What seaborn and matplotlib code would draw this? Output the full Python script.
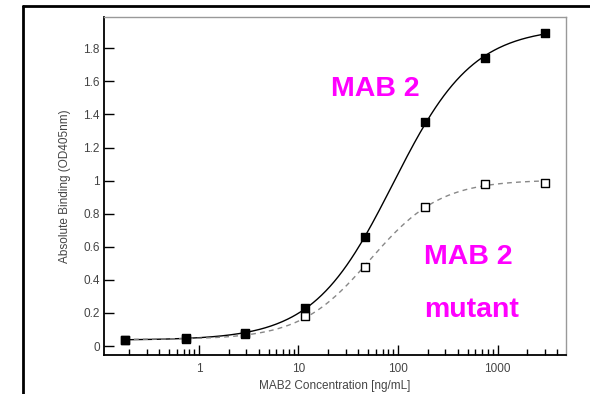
import numpy as np
import pandas as pd
import matplotlib
matplotlib.use("Agg")
import matplotlib.pyplot as plt
from matplotlib.lines import Line2D
from matplotlib.ticker import LogLocator, FixedLocator, NullFormatter, FuncFormatter
import seaborn as sns

# ---- data ----
concentration = [0.18, 0.732, 2.93, 11.7, 46.9, 187.5, 750, 3000]
mab2 = [0.034, 0.05, 0.08, 0.23, 0.66, 1.356, 1.743, 1.89]
mab2_mutant = [0.034, 0.045, 0.07, 0.18, 0.48, 0.842, 0.981, 0.987]
y_ticks = [0, 0.2, 0.4, 0.6, 0.8, 1.0, 1.2, 1.4, 1.6, 1.8]
x_ticks = [1, 10, 100, 1000]
x_label = "MAB2 Concentration [ng/mL]"
y_label = "Absolute Binding (OD405nm)"


def fit_4pl(x, y):
    """Least-squares 4-parameter logistic fit (grid over EC50/Hill, linear for bottom/top)."""
    lx = np.log10(np.asarray(x, float))
    y = np.asarray(y, float)
    best = None
    for lec in np.linspace(0, 4, 401):
        for h in np.linspace(0.3, 3, 271):
            s = 1.0 / (1.0 + 10 ** ((lec - lx) * h))
            A = np.column_stack([1 - s, s])
            coef, *_ = np.linalg.lstsq(A, y, rcond=None)
            r = np.sum((A @ coef - y) ** 2)
            if best is None or r < best[0]:
                best = (r, lec, h, coef)
    _, lec, h, (bot, top) = best

    def f(xx):
        s = 1.0 / (1.0 + 10 ** ((lec - np.log10(xx)) * h))
        return bot + (top - bot) * s
    return f


xs = np.logspace(np.log10(min(concentration)), np.log10(max(concentration)), 300)
f1 = fit_4pl(concentration, mab2)
f2 = fit_4pl(concentration, mab2_mutant)
curve1 = pd.DataFrame({"x": xs, "y": f1(xs)})
curve2 = pd.DataFrame({"x": xs, "y": f2(xs)})
pts1 = pd.DataFrame({"x": concentration, "y": mab2})
pts2 = pd.DataFrame({"x": concentration, "y": mab2_mutant})

sns.set_style("ticks")
plt.rcParams["font.family"] = ["Liberation Sans", "DejaVu Sans"]

fig = plt.figure(figsize=(5.9, 3.94), dpi=100)
ax = fig.add_axes([104 / 590, 1 - 355 / 394, 462 / 590, 338 / 394])

sns.lineplot(data=curve1, x="x", y="y", ax=ax, color="black", lw=1.0, legend=False)
sns.lineplot(data=curve2, x="x", y="y", ax=ax, color="#888888", lw=1.0, legend=False)
ax.lines[-1].set_linestyle((0, (3.5, 3)))
sns.scatterplot(data=pts2, x="x", y="y", ax=ax, marker="s", s=38,
                facecolor="white", edgecolor="black", linewidth=1.0, zorder=5)
sns.scatterplot(data=pts1, x="x", y="y", ax=ax, marker="s", s=38,
                color="black", edgecolor="black", linewidth=1.0, zorder=6)

ax.set_xscale("log")
ax.set_xlim(0.111, 4880)
ax.set_ylim(-0.054, 1.989)
ax.xaxis.set_major_locator(FixedLocator(x_ticks))
ax.xaxis.set_major_formatter(FuncFormatter(lambda v, p: f"{v:g}"))
ax.xaxis.set_minor_locator(LogLocator(base=10, subs=np.arange(2, 10)))
ax.xaxis.set_minor_formatter(NullFormatter())
ax.yaxis.set_major_locator(FixedLocator(y_ticks))
ax.yaxis.set_major_formatter(FuncFormatter(lambda v, p: f"{v:g}"))

ax.tick_params(axis="both", which="major", direction="in", length=7, width=1,
               labelsize=8.5, labelcolor="#444444", color="black")
ax.tick_params(axis="x", which="major", pad=6)
ax.tick_params(axis="y", which="major", pad=3)
ax.tick_params(axis="x", which="minor", direction="in", length=4, width=1, color="black")

for side in ["left", "bottom"]:
    ax.spines[side].set_color("black")
    ax.spines[side].set_linewidth(1.3)
for side in ["top", "right"]:
    ax.spines[side].set_visible(True)
    ax.spines[side].set_color("#999999")
    ax.spines[side].set_linewidth(1.0)

ax.set_xlabel(x_label, fontsize=8.5, color="#444444", labelpad=3)
ax.set_ylabel(y_label, fontsize=8.5, color="#444444", labelpad=9)

mag = "#FF00FF"
ax.text(0.491, 0.766, "MAB 2", transform=ax.transAxes, color=mag,
        fontsize=20.5, fontweight="bold", ha="left", va="baseline")
ax.text(0.693, 0.269, "MAB 2", transform=ax.transAxes, color=mag,
        fontsize=20.5, fontweight="bold", ha="left", va="baseline")
ax.text(0.693, 0.112, "mutant", transform=ax.transAxes, color=mag,
        fontsize=20.5, fontweight="bold", ha="left", va="baseline")

# outer frame (left and top edges)
bx, by = 23 / 590, 1 - 6 / 394
fig.add_artist(Line2D([bx, bx], [0, by], transform=fig.transFigure, color="black", lw=2))
fig.add_artist(Line2D([bx, 1], [by, by], transform=fig.transFigure, color="black", lw=2))

fig.savefig("out.png", dpi=100)
